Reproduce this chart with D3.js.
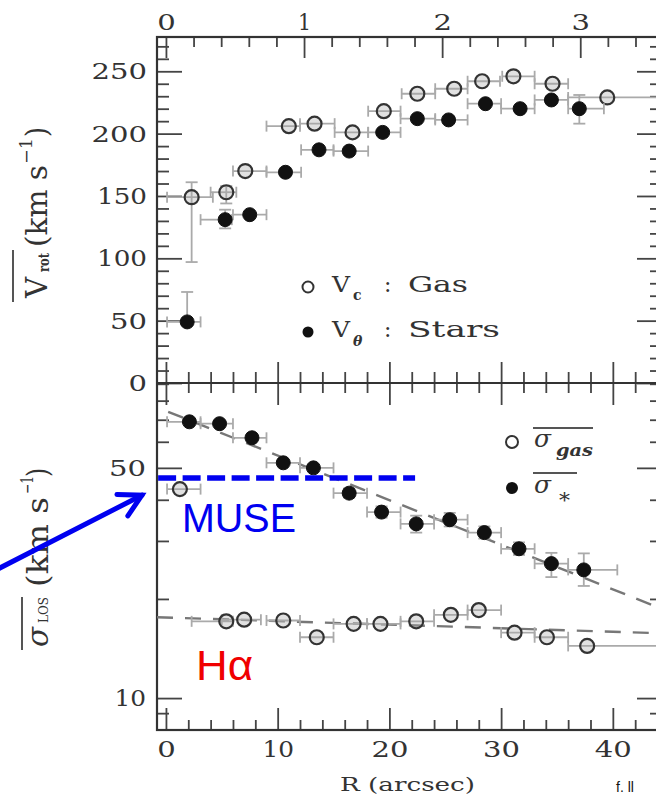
<!DOCTYPE html>
<html><head><meta charset="utf-8">
<script src="https://cdn.jsdelivr.net/npm/d3@7"></script>
<style>body{margin:0;background:#fff}svg{display:block}</style>
</head><body>
<svg id="c" width="656" height="795"></svg>
<script>
// ---------------- DATA ----------------
const kpcPerArcsec = 0.0809;
// Top panel: rotation velocity (km/s) vs R (arcsec)
const gasR    = [2.3, 5.4, 7.1, 11.0, 13.3, 16.7, 19.5, 22.5, 25.8, 28.3, 31.1, 34.6, 39.5];
const gasV    = [149, 153, 170, 206, 208, 201, 218, 232, 236, 242, 246, 240, 229];
const gasRlo  = [0.1, 4.0, 6.0, 9.0, 12.0, 15.1, 18.1, 21.1, 24.1, 27.0, 30.1, 33.0, 36.0];
const gasRhi  = [4.2, 6.3, 9.0, 12.0, 15.1, 18.1, 21.0, 24.1, 27.0, 29.9, 33.0, 36.0, 46.0];
const gasVlo  = [97, 144, 168, 204, 206, 199, 216, 230, 234, 240, 244, 238, 227];
const gasVhi  = [161, 158, 172, 208, 210, 203, 220, 234, 238, 244, 248, 242, 231];

const starR   = [1.9, 5.3, 7.5, 10.7, 13.7, 16.4, 19.4, 22.5, 25.3, 28.6, 31.7, 34.5, 37.0];
const starV   = [49, 131, 135, 169, 187, 186, 201, 212, 211, 224, 220, 227, 220];
const starRlo = [0.1, 3.1, 6.0, 9.0, 12.1, 15.0, 18.1, 21.0, 24.1, 27.0, 30.0, 33.0, 36.0];
const starRhi = [3.1, 5.9, 9.0, 12.1, 15.0, 18.1, 21.0, 24.1, 27.0, 30.0, 33.0, 36.0, 39.2];
const starVlo = [47, 124, 133, 167, 185, 184, 199, 210, 209, 222, 218, 225, 208];
const starVhi = [73, 139, 137, 171, 189, 188, 203, 214, 213, 226, 222, 229, 231];

// Bottom panel: line-of-sight dispersion (km/s, log) vs R (arcsec)
const sigStarR   = [2.1, 4.8, 7.7, 10.5, 13.2, 16.4, 19.3, 22.4, 25.4, 28.5, 31.6, 34.5, 37.4];
const sigStar    = [69.0, 68.1, 61.7, 51.8, 50.0, 41.9, 36.7, 33.8, 34.8, 31.8, 28.4, 25.6, 24.5];
const sigStarRlo = [0.1, 3.1, 6.0, 9.0, 12.0, 15.0, 18.0, 21.0, 24.0, 27.0, 30.0, 33.0, 36.0];
const sigStarRhi = [3.1, 6.0, 9.0, 12.0, 15.0, 18.0, 21.0, 24.0, 27.0, 30.0, 33.0, 36.0, 40.4];
const sigStarLo  = [67.5, 66.5, 60.2, 50.4, 48.6, 40.6, 35.3, 31.8, 33.2, 30.5, 27.2, 23.3, 21.9];
const sigStarHi  = [70.5, 69.7, 63.3, 53.2, 51.4, 43.3, 38.2, 35.8, 36.5, 33.2, 29.7, 27.6, 27.5];

const sigGasR    = [1.25, 5.4, 7.0, 10.5, 13.5, 16.8, 19.2, 22.4, 25.5, 28.0, 31.2, 34.1, 37.7];
const sigGas     = [43.1, 17.1, 17.3, 17.2, 15.3, 16.8, 16.8, 17.1, 17.9, 18.5, 15.8, 15.3, 14.4];
const sigGasRlo  = [0.1, 2.3, 5.0, 9.0, 12.0, 15.0, 18.0, 21.0, 24.0, 27.0, 30.0, 33.0, 36.0];
const sigGasRhi  = [3.1, 6.0, 8.5, 12.0, 15.0, 18.0, 21.0, 24.0, 27.0, 30.0, 33.0, 36.0, 46.0];

// dashed model curves  [R, sigma]
const starModel = [[0.2, 74.0], [45, 18.3]];
const gasModel  = [[-0.8, 17.6], [45, 15.7]];

// tick labels
const topTicks   = [0, 50, 100, 150, 200, 250];
const botTicks   = [10, 50];
const rTicks     = [0, 10, 20, 30, 40];
const kpcTicks   = [0, 1, 2, 3];

// annotations (data coordinates of the bottom panel)
const museLevel = 46.6, museR = [-0.7, 22.3];
const arrowFrom = [-14.9, 24.8], arrowTo = [-2.15, 41.3];

// ---------------- CHART ----------------
const svg = d3.select("#c");
const F = {l:157, r:662, t:37, m:383, b:730};
const x  = d3.scaleLinear().domain([-0.8, 44.4]).range([F.l, F.r]);
const xk = d3.scaleLinear().domain([-0.8*kpcPerArcsec, 44.4*kpcPerArcsec]).range([F.l, F.r]);
const yT = d3.scaleLinear().domain([0, 277.5]).range([F.m, F.t]);
const yB = d3.scaleLog().domain([8, 90.5]).range([F.b, F.m]);

const TXT = "#333", SERIF = "DejaVu Serif";
const lenOf = s => Array.from(String(s)).reduce((a,c)=>a+(c==="1"?13:18.5),0);

function drawAxis(axis, tx, ty, labelled) {
  const g = svg.append("g").attr("transform", `translate(${tx},${ty})`).call(axis);
  g.select(".domain").remove();
  g.selectAll(".tick line").attr("stroke", "#444").attr("stroke-width", 1.8);
  if (labelled) {
    g.selectAll(".tick text").attr("font-family", SERIF).attr("font-size", 23).attr("fill", TXT)
      .attr("textLength", d => lenOf(d)).attr("lengthAdjust", "spacingAndGlyphs");
  } else g.selectAll(".tick text").remove();
  return g;
}
const fmt = d3.format("d");
const rMinor = d3.range(2, 45, 2).filter(d => d % 10);
const kMinor = d3.range(1, 19).filter(i => i % 5).map(i => i / 5);

// top kpc axis
drawAxis(d3.axisTop(xk).tickValues(kpcTicks).tickSize(-21).tickPadding(7).tickFormat(fmt), 0, F.t, true);
drawAxis(d3.axisTop(xk).tickValues(kMinor).tickSize(-10), 0, F.t, false);
// middle line: up and down ticks
drawAxis(d3.axisBottom(x).tickValues(rTicks).tickSize(-21), 0, F.m, false);
drawAxis(d3.axisBottom(x).tickValues(rMinor).tickSize(-11), 0, F.m, false);
drawAxis(d3.axisTop(x).tickValues(rTicks).tickSize(-22), 0, F.m, false);
drawAxis(d3.axisTop(x).tickValues(rMinor).tickSize(-10), 0, F.m, false);
// bottom arcsec axis
drawAxis(d3.axisBottom(x).tickValues(rTicks).tickSize(-22).tickPadding(10.5).tickFormat(fmt), 0, F.b, true);
drawAxis(d3.axisBottom(x).tickValues(rMinor).tickSize(-10), 0, F.b, false);
// top panel left/right
const vMinor = d3.range(10, 278, 10).filter(d => d % 50);
drawAxis(d3.axisLeft(yT).tickValues(topTicks).tickSize(-25).tickPadding(10).tickFormat(fmt), F.l, 0, true);
drawAxis(d3.axisLeft(yT).tickValues(vMinor).tickSize(-12), F.l, 0, false);
drawAxis(d3.axisRight(yT).tickValues(topTicks).tickSize(-25), F.r, 0, false);
drawAxis(d3.axisRight(yT).tickValues(vMinor).tickSize(-12), F.r, 0, false);
// bottom panel left/right
const sMinor = [9, 20, 30, 40, 60, 70, 80, 90];
drawAxis(d3.axisLeft(yB).tickValues(botTicks).tickSize(-25).tickPadding(11).tickFormat(fmt), F.l, 0, true);
drawAxis(d3.axisLeft(yB).tickValues(sMinor).tickSize(-12), F.l, 0, false);
drawAxis(d3.axisRight(yB).tickValues(botTicks).tickSize(-25), F.r, 0, false);
drawAxis(d3.axisRight(yB).tickValues(sMinor).tickSize(-12), F.r, 0, false);

// frame
const fr = svg.append("g").attr("stroke", "#333").attr("stroke-width", 2.2).attr("fill", "none");
fr.append("rect").attr("x", F.l).attr("y", F.t).attr("width", F.r - F.l).attr("height", F.b - F.t);
fr.append("line").attr("x1", F.l).attr("x2", F.r).attr("y1", F.m).attr("y2", F.m);

// clip
svg.append("clipPath").attr("id", "clipT").append("rect").attr("x", F.l).attr("y", F.t).attr("width", F.r - F.l).attr("height", F.m - F.t);
svg.append("clipPath").attr("id", "clipB").append("rect").attr("x", F.l).attr("y", F.m).attr("width", F.r - F.l).attr("height", F.b - F.m);

function series(R, V, Rlo, Rhi, Vlo, Vhi, ys, filled, clip) {
  const d = R.map((r, i) => ({r, v: V[i], rlo: Rlo[i], rhi: Rhi[i], vlo: Vlo ? Vlo[i] : V[i], vhi: Vhi ? Vhi[i] : V[i]}));
  const g = svg.append("g").attr("clip-path", `url(#${clip})`);
  const eb = g.append("g").attr("stroke", "#aaa").attr("stroke-width", 1.8).attr("fill", "none");
  d.forEach(p => {
    const y0 = ys(p.v), xa = x(p.rlo), xb = x(p.rhi), xc = x(p.r);
    eb.append("line").attr("x1", xa).attr("x2", xb).attr("y1", y0).attr("y2", y0);
    eb.append("line").attr("x1", xa).attr("x2", xa).attr("y1", y0 - 5.5).attr("y2", y0 + 5.5);
    eb.append("line").attr("x1", xb).attr("x2", xb).attr("y1", y0 - 5.5).attr("y2", y0 + 5.5);
    const ya = ys(p.vlo), yb = ys(p.vhi);
    if (Math.abs(ya - yb) > 9) {
      eb.append("line").attr("x1", xc).attr("x2", xc).attr("y1", ya).attr("y2", yb);
      eb.append("line").attr("x1", xc - 6).attr("x2", xc + 6).attr("y1", ya).attr("y2", ya);
      eb.append("line").attr("x1", xc - 6).attr("x2", xc + 6).attr("y1", yb).attr("y2", yb);
    }
  });
  g.selectAll("circle.m").data(d).join("circle").attr("class", "m")
    .attr("cx", p => x(p.r)).attr("cy", p => ys(p.v)).attr("r", 7)
    .attr("fill", filled ? "#111" : "rgba(170,170,170,0.35)")
    .attr("stroke", filled ? "#111" : "#333").attr("stroke-width", filled ? 1 : 2.2);
}

// model dashed lines
const mline = d3.line().x(d => x(d[0])).y(d => yB(d[1]));
const mg = svg.append("g").attr("clip-path", "url(#clipB)").attr("fill", "none")
  .attr("stroke", "#777").attr("stroke-width", 2.4).attr("stroke-dasharray", "16,12");
mg.append("path").attr("d", mline(starModel));
mg.append("path").attr("d", mline(gasModel));

series(gasR, gasV, gasRlo, gasRhi, gasVlo, gasVhi, yT, false, "clipT");
series(starR, starV, starRlo, starRhi, starVlo, starVhi, yT, true, "clipT");
series(sigGasR, sigGas, sigGasRlo, sigGasRhi, null, null, yB, false, "clipB");
series(sigStarR, sigStar, sigStarRlo, sigStarRhi, sigStarLo, sigStarHi, yB, true, "clipB");

// ---------- legends ----------
function t(str, px, py, size, opts = {}) {
  const e = svg.append("text").attr("x", px).attr("y", py).attr("font-family", opts.family || SERIF)
    .attr("font-size", size).attr("fill", opts.fill || TXT).text(str);
  if (opts.len) e.attr("textLength", opts.len).attr("lengthAdjust", "spacingAndGlyphs");
  if (opts.italic) e.attr("font-style", "italic");
  if (opts.bold) e.attr("font-weight", "bold");
  if (opts.anchor) e.attr("text-anchor", opts.anchor);
  return e;
}
svg.append("circle").attr("cx", 308).attr("cy", 287).attr("r", 5.5).attr("fill", "none").attr("stroke", "#333").attr("stroke-width", 2);
svg.append("circle").attr("cx", 308).attr("cy", 332).attr("r", 5.5).attr("fill", "#111");
t("V", 332, 292, 22, {len: 18});
t("c", 353, 300, 14, {bold: true});
t(":", 384, 292, 22);
t("Gas", 408, 292, 23, {len: 60});
t("V", 332, 337, 22, {len: 18});
t("θ", 353, 346, 14, {bold: true, italic: true});
t(":", 384, 337, 22);
t("Stars", 408, 337, 23, {len: 92});

svg.append("circle").attr("cx", 512).attr("cy", 442).attr("r", 6).attr("fill", "none").attr("stroke", "#333").attr("stroke-width", 2);
svg.append("circle").attr("cx", 512).attr("cy", 488).attr("r", 6).attr("fill", "#111");
t("σ", 534, 447, 25, {italic: true, len: 17});
t("gas", 556, 456, 16, {bold: true, italic: true, len: 37});
t("σ", 534, 493, 25, {italic: true, len: 17});
t("*", 559, 507, 20, {len: 11});
const ol = svg.append("g").attr("stroke", "#555").attr("stroke-width", 2);
ol.append("line").attr("x1", 533).attr("x2", 593).attr("y1", 428).attr("y2", 428);
ol.append("line").attr("x1", 533).attr("x2", 577).attr("y1", 473).attr("y2", 473);

// ---------- axis titles ----------
t("R (arcsec)", 340, 791, 19, {len: 135});

const gl1 = svg.append("g").attr("transform", "translate(47,300) rotate(-90)");
function lt(g, str, px, py, size, opts = {}) {
  const e = g.append("text").attr("x", px).attr("y", py).attr("font-family", SERIF).attr("font-size", size).attr("fill", TXT).text(str);
  if (opts.len) e.attr("textLength", opts.len).attr("lengthAdjust", "spacingAndGlyphs");
  if (opts.bold) e.attr("font-weight", "bold");
  if (opts.italic) e.attr("font-style", "italic");
  return e;
}
lt(gl1, "V", 2, 0, 29, {len: 21});
lt(gl1, "rot", 28, 2, 14, {bold: true, len: 19});
gl1.append("line").attr("x1", -2).attr("x2", 50).attr("y1", -34).attr("y2", -34).attr("stroke", "#555").attr("stroke-width", 2);
lt(gl1, "(km s", 53, 0, 29, {len: 82});
lt(gl1, "−1", 136, -15, 17, {len: 26});
lt(gl1, ")", 163, 0, 29, {len: 10});

const gl2 = svg.append("g").attr("transform", "translate(48,650) rotate(-90)");
lt(gl2, "σ", 3, 0, 30, {italic: true, len: 20});
lt(gl2, "LOS", 27, 0, 13, {len: 26});
gl2.append("line").attr("x1", 0).attr("x2", 53).attr("y1", -26).attr("y2", -26).attr("stroke", "#555").attr("stroke-width", 2);
lt(gl2, "(km s", 63, 0, 29, {len: 90});
lt(gl2, "−1", 156, -15, 17, {len: 18});
lt(gl2, ")", 173, 0, 29, {len: 9});

// ---------- annotations ----------
svg.append("line").attr("x1", x(museR[0])).attr("x2", x(museR[1]))
  .attr("y1", yB(museLevel)).attr("y2", yB(museLevel))
  .attr("stroke", "#0000f0").attr("stroke-width", 5.5).attr("stroke-dasharray", "18,6.5");
t("MUSE", 182, 532, 40, {family: "Liberation Sans", fill: "#0000f0", len: 114});
t("Hα", 196, 680, 42, {family: "Liberation Sans", fill: "#f00000", len: 57});

const ax0 = x(arrowFrom[0]), ay0 = yB(arrowFrom[1]), ax1 = x(arrowTo[0]), ay1 = yB(arrowTo[1]);
const ang = Math.atan2(ay1 - ay0, ax1 - ax0), hl = 25, ha = 0.5;
const ar = svg.append("g").attr("stroke", "#0000f0").attr("stroke-width", 5).attr("fill", "none").attr("stroke-linecap", "round");
ar.append("line").attr("x1", ax0).attr("y1", ay0).attr("x2", ax1).attr("y2", ay1);
ar.append("path").attr("stroke-linejoin", "miter").attr("d",
  `M${ax1 - hl*Math.cos(ang - ha)},${ay1 - hl*Math.sin(ang - ha)} L${ax1},${ay1} L${ax1 - hl*Math.cos(ang + ha)},${ay1 - hl*Math.sin(ang + ha)}`);

t("f. ll", 616, 792, 14, {family: "Liberation Sans", fill: "#111"});
</script>
</body></html>
